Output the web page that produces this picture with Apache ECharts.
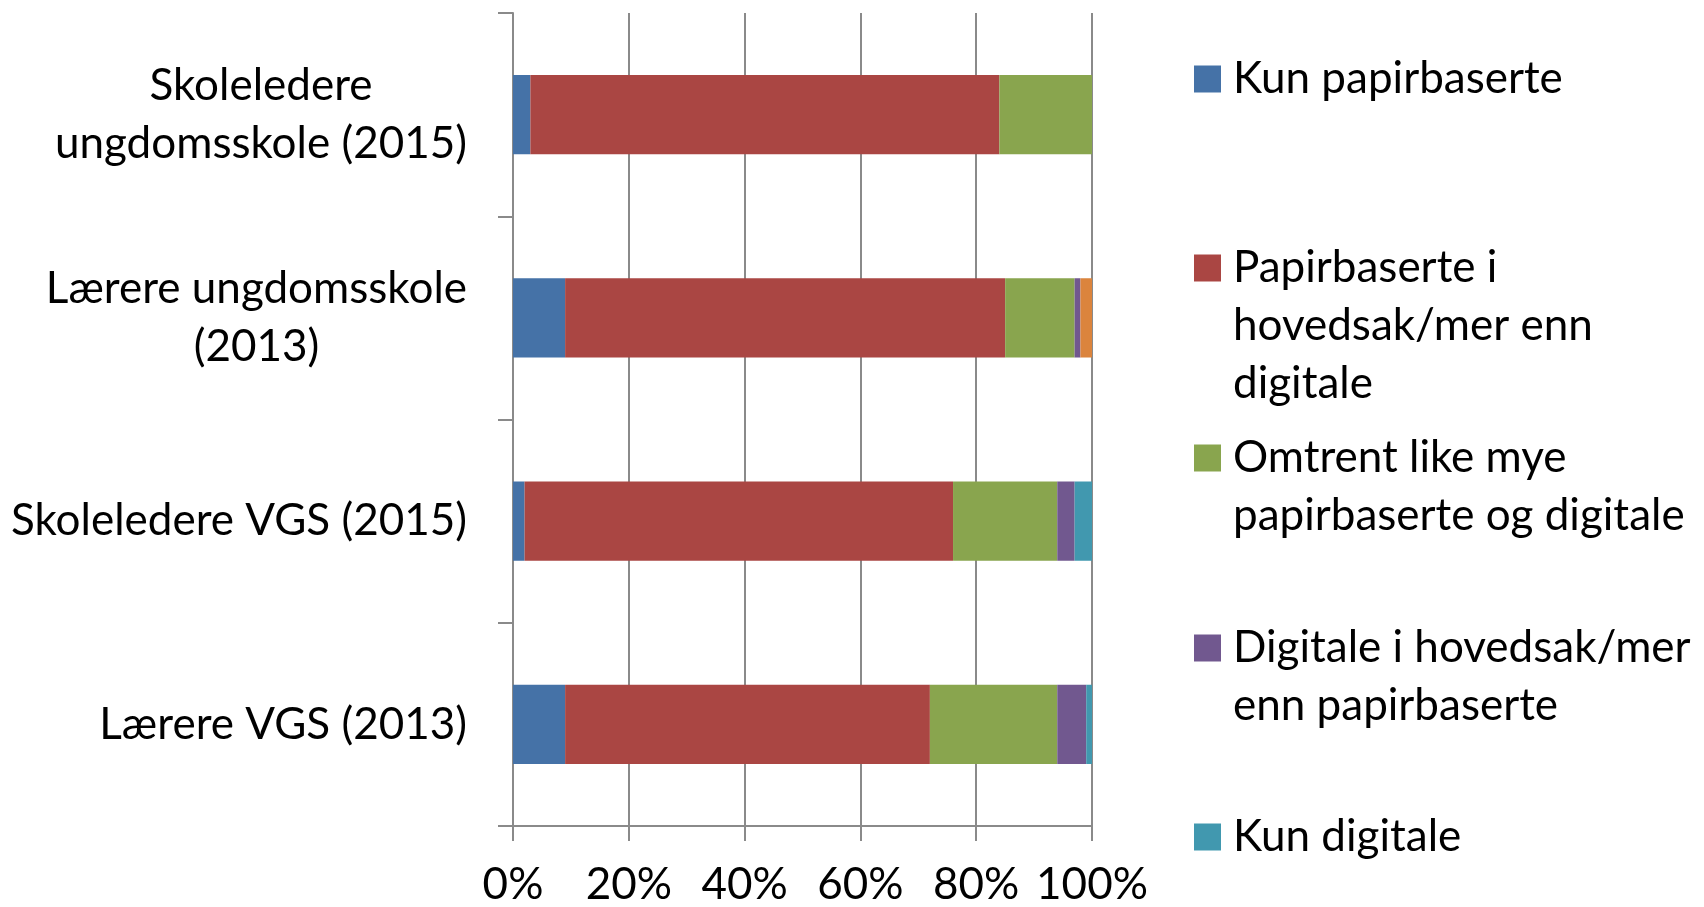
<!DOCTYPE html>
<html>
<head>
<meta charset="utf-8">
<script src="https://cdn.jsdelivr.net/npm/echarts@6/dist/echarts.min.js"></script>
<style>
html,body{margin:0;padding:0;background:#fff;}
#chart{width:1704px;height:907px;}
</style>
</head>
<body>
<div id="chart"></div>
<script>
// ---- Data ----
const categories = [
  'Skoleledere\nungdomsskole (2015)',
  'Lærere ungdomsskole\n(2013)',
  'Skoleledere VGS (2015)',
  'Lærere VGS (2013)'
];
const seriesNames = [
  'Kun papirbaserte',
  'Papirbaserte i hovedsak/mer enn digitale',
  'Omtrent like mye papirbaserte og digitale',
  'Digitale i hovedsak/mer enn papirbaserte',
  'Kun digitale',
  'Vet ikke'
];
const legendLines = [
  ['Kun papirbaserte'],
  ['Papirbaserte i', 'hovedsak/mer enn', 'digitale'],
  ['Omtrent like mye', 'papirbaserte og digitale'],
  ['Digitale i hovedsak/mer', 'enn papirbaserte'],
  ['Kun digitale']
];
const kunPapir      = [3, 9, 2, 9];
const papirHoved    = [81, 76, 74, 63];
const likeMye       = [16, 12, 18, 22];
const digitalHoved  = [0, 1, 3, 5];
const kunDigital    = [0, 0, 3, 1];
const vetIkke       = [0, 2, 0, 0];
const xTicks = [0, 20, 40, 60, 80, 100];

const values = [kunPapir, papirHoved, likeMye, digitalHoved, kunDigital, vetIkke];
const colors = ['#4572A7', '#AA4643', '#89A54E', '#71588F', '#4198AF', '#DB843D'];

// ---- Style ----
const FONT = 'Lato';
const FS = 44;
const LH = 58;
const AX = '#8a8a8a';

const legendCenters = [79, 268, 458, 648, 837];
const legends = legendLines.map((lines, i) => {
  const n = lines.length;
  const blockH = (2 * n - 1) * LH;
  return {
    data: [seriesNames[i]],
    left: 1194,
    top: legendCenters[i] - blockH / 2,
    padding: 0,
    icon: 'rect',
    itemWidth: 27,
    itemHeight: 27,
    itemGap: 0,
    selectedMode: false,
    formatter: () => new Array(n - 1).fill('').concat(lines).join('\n'),
    textStyle: { fontFamily: FONT, fontSize: FS, lineHeight: LH, color: '#000', padding: [0, 0, 0, 7] }
  };
});

const chart = echarts.init(document.getElementById('chart'), null, { renderer: 'canvas' });
chart.setOption({
  backgroundColor: '#fff',
  animation: false,
  color: colors,
  legend: legends,
  grid: { left: 513, right: 612, top: 13, bottom: 80, containLabel: false },
  xAxis: {
    type: 'value',
    min: xTicks[0],
    max: xTicks[xTicks.length - 1],
    interval: xTicks[1] - xTicks[0],
    axisLine: { show: true, lineStyle: { color: AX, width: 2 } },
    axisTick: { show: true, length: 15, lineStyle: { color: AX, width: 2 } },
    splitLine: { show: true, lineStyle: { color: AX, width: 2 } },
    axisLabel: { formatter: '{value}%', fontFamily: FONT, fontSize: FS, color: '#000', margin: 37 }
  },
  yAxis: {
    type: 'category',
    inverse: true,
    data: categories,
    axisLine: { show: true, lineStyle: { color: AX, width: 2 } },
    axisTick: { show: true, length: 15, lineStyle: { color: AX, width: 2 } },
    axisLabel: {
      margin: 46,
      formatter: (v) => v.split('\n').map(s => '{c|' + s + '}').join('\n'),
      rich: { c: { fontFamily: FONT, fontSize: FS, lineHeight: LH, color: '#000', align: 'center' } }
    }
  },
  series: seriesNames.map((name, i) => ({
    name: name,
    type: 'bar',
    stack: 'total',
    barWidth: '39%',
    data: values[i],
    itemStyle: { color: colors[i] }
  }))
});
</script>
</body>
</html>
